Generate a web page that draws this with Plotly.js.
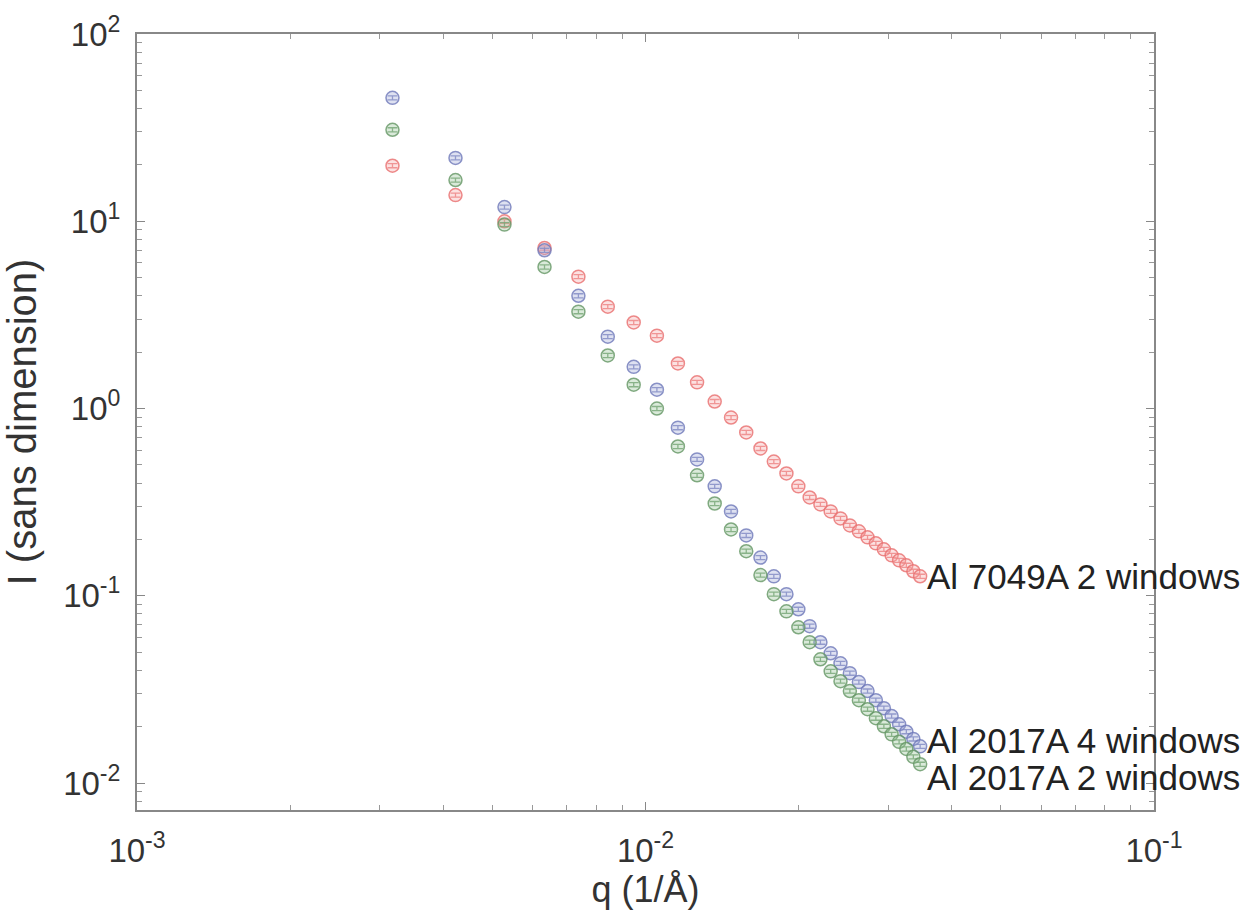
<!DOCTYPE html>
<html>
<head>
<meta charset="utf-8">
<script src="https://cdn.plot.ly/plotly-3.0.1.min.js"></script>
<style>html,body{margin:0;padding:0;background:#fff;}#chart{width:1250px;height:910px;}</style>
</head>
<body>
<div id="chart"></div>
<script>
// q values (1/Å)
const qValues = [0.00318, 0.00423, 0.00528, 0.00633, 0.00738, 0.00843, 0.00948, 0.01053, 0.01158, 0.01263,
  0.01368, 0.01473, 0.01578, 0.01683, 0.01788, 0.01893, 0.01998, 0.02103, 0.02208, 0.02313,
  0.02418, 0.02523, 0.02628, 0.02733, 0.02838, 0.02943, 0.03048, 0.03153, 0.03258, 0.03363, 0.03468];

// Al 2017A 4 windows (blue)
const al2017A4 = [45.6, 21.8, 11.9, 7.0, 4.0, 2.42, 1.67, 1.26, 0.79, 0.535,
  0.384, 0.282, 0.210, 0.160, 0.127, 0.102, 0.0847, 0.0688, 0.0565, 0.0493,
  0.0436, 0.0386, 0.0346, 0.0310, 0.0277, 0.0251, 0.0228, 0.0206, 0.0188, 0.0172, 0.0157];

// Al 2017A 2 windows (green)
const al2017A2 = [30.8, 16.6, 9.6, 5.7, 3.29, 1.92, 1.34, 1.0, 0.627, 0.44,
  0.311, 0.226, 0.173, 0.129, 0.102, 0.0826, 0.0679, 0.0565, 0.0458, 0.0395,
  0.0350, 0.0310, 0.0277, 0.0248, 0.0222, 0.0201, 0.0182, 0.0166, 0.0152, 0.0138, 0.0126];

// Al 7049A 2 windows (red)
const al7049A2 = [19.8, 13.8, 10.0, 7.2, 5.06, 3.5, 2.88, 2.45, 1.74, 1.38,
  1.09, 0.895, 0.745, 0.612, 0.521, 0.45, 0.384, 0.335, 0.3076, 0.2823,
  0.2589, 0.2376, 0.2208, 0.2051, 0.1905, 0.1770, 0.1644, 0.1546, 0.1455, 0.1352, 0.1271];

// tick labels
const xTickVals = [0.001, 0.01, 0.1];
const xTickText = ['10<sup>-3</sup>', '10<sup>-2</sup>', '10<sup>-1</sup>'];
const yTickVals = [0.01, 0.1, 1, 10, 100];
const yTickText = ['10<sup>-2</sup>', '10<sup>-1</sup>', '10<sup>0</sup>', '10<sup>1</sup>', '10<sup>2</sup>'];

const seriesNames = ['Al 7049A 2 windows', 'Al 2017A 4 windows', 'Al 2017A 2 windows'];
const seriesData = [al7049A2, al2017A4, al2017A2];
const seriesColors = ['rgba(232,110,110,0.8)', 'rgba(110,120,185,0.8)', 'rgba(100,150,100,0.8)'];
const seriesFill = ['rgba(245,170,170,0.35)', 'rgba(160,170,215,0.35)', 'rgba(150,195,150,0.35)'];
const labelShift = [0, 6, -13];

const FONT = 'Liberation Sans, Arial, sans-serif';

const traces = seriesData.map((ys, i) => ({
  type: 'scatter', mode: 'markers', name: seriesNames[i],
  x: qValues, y: ys,
  marker: {symbol: 'circle', size: 13, color: seriesFill[i], line: {color: seriesColors[i], width: 1.5}},
  error_y: {type: 'percent', value: 2.5, color: seriesColors[i], thickness: 1.3, width: 5},
  showlegend: false
}));

const annotations = seriesData.map((ys, i) => ({
  x: Math.log10(qValues[qValues.length - 1]), y: Math.log10(ys[ys.length - 1]),
  xref: 'x', yref: 'y', text: seriesNames[i], showarrow: false,
  xanchor: 'left', yanchor: 'middle', xshift: 5, yshift: labelShift[i],
  font: {family: FONT, size: 35, color: '#222'}
}));

const minorTicks = {tickmode: 'linear', dtick: 'D1', ticks: 'inside', ticklen: 5, tickcolor: '#999', showgrid: false};

const axisCommon = {
  type: 'log', showgrid: false, zeroline: false,
  showline: true, linecolor: '#888', linewidth: 2, mirror: 'ticks',
  ticks: 'inside', ticklen: 8, tickwidth: 1, tickcolor: '#888',
  tickfont: {family: FONT, size: 33, color: '#333'},
  minor: minorTicks
};

const layout = {
  width: 1250, height: 910,
  margin: {l: 137, r: 96, t: 34, b: 100},
  paper_bgcolor: '#fff', plot_bgcolor: '#fff',
  xaxis: Object.assign({}, axisCommon, {
    range: [-3, -1],
    tickvals: xTickVals, ticktext: xTickText,
    ticklabelstandoff: 10,
    title: {text: 'q (1/Å)', standoff: 0, font: {family: FONT, size: 36, color: '#333'}}
  }),
  yaxis: Object.assign({}, axisCommon, {
    range: [-2.144, 2],
    tickvals: yTickVals, ticktext: yTickText,
    ticklabelstandoff: 8,
    title: {text: 'I (sans dimension)', standoff: 14, font: {family: FONT, size: 40, color: '#333'}}
  }),
  annotations: annotations
};

Plotly.newPlot('chart', traces, layout, {displayModeBar: false, staticPlot: true});
</script>
</body>
</html>
